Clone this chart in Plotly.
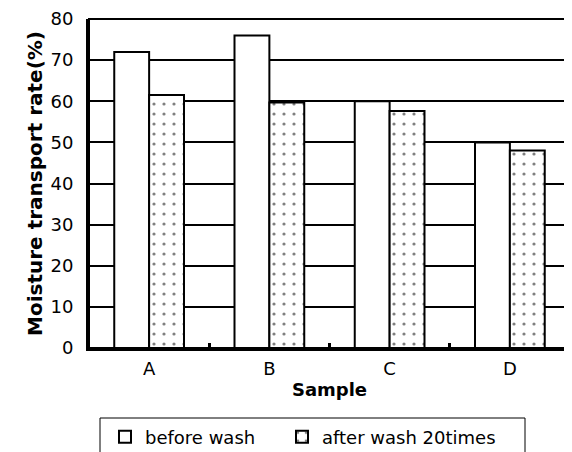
import plotly.graph_objects as go

categories = ["A", "B", "C", "D"]
before_wash = [72, 76, 60, 50]
after_wash = [61.5, 59.7, 57.6, 48]
series_names = ["before wash", "after wash 20times"]
y_ticks = [0, 10, 20, 30, 40, 50, 60, 70, 80]

FONT = "DejaVu Sans, Arial, sans-serif"
W, H = 572, 452
OFF = 8  # page body margin offsets the figure in the screenshot

fig = go.Figure()
fig.add_trace(go.Bar(
    x=categories, y=before_wash, name=series_names[0], legend="legend",
    marker=dict(color="white", line=dict(color="black", width=2)),
))
fig.add_trace(go.Bar(
    x=categories, y=after_wash, name=series_names[1], legend="legend2",
    marker=dict(color="white", line=dict(color="black", width=2),
                pattern=dict(shape=".", size=10, solidity=0.08,
                             fgcolor="black", bgcolor="white")),
))

# plot area in figure coordinates
PL, PR, PT, PB = 89 - OFF, 570 - OFF, 19 - OFF, 348 - OFF
pw, ph = PR - PL, PB - PT

leg_common = dict(
    orientation="h", xref="container", yref="container",
    xanchor="left", yanchor="middle", y=1 - (437 - OFF) / H,
    borderwidth=0, bgcolor="rgba(0,0,0,0)",
    font=dict(family=FONT, size=18, color="black"), itemwidth=30,
)

fig.update_layout(
    width=W, height=H, autosize=False,
    margin=dict(l=PL, r=W - PR, t=PT, b=H - PB, pad=0),
    paper_bgcolor="white", plot_bgcolor="white",
    barmode="group", bargap=0.42, bargroupgap=0,
    font=dict(family=FONT, size=18, color="black"),
    showlegend=True,
    legend=dict(leg_common, x=(105 - OFF) / W),
    legend2=dict(leg_common, x=(282 - OFF) / W),
    xaxis=dict(
        range=[-0.5, 3.5], showline=True, linecolor="black", linewidth=3,
        ticks="inside", tickson="boundaries", ticklen=5, tickwidth=3,
        tickcolor="black", showgrid=False, automargin=False,
        ticklabelstandoff=2, ticklabeloverflow="allow",
        title=dict(text="<b>Sample</b>", standoff=6,
                   font=dict(family=FONT, size=18)),
    ),
    yaxis=dict(
        range=[0, 80], tickvals=y_ticks, showline=True, linecolor="black",
        linewidth=3, ticks="", showgrid=True, gridcolor="black", gridwidth=1.5,
        ticklabelstandoff=9, ticklabeloverflow="allow",
        zeroline=False, automargin=False,
        title=dict(text="<b>Moisture transport rate(%)</b>", standoff=3,
                   font=dict(family=FONT, size=20)),
    ),
    shapes=[
        dict(type="rect", xref="paper", yref="paper", x0=0, x1=1, y0=0, y1=1,
             line=dict(color="black", width=2), layer="above"),
        dict(type="rect", xref="paper", yref="paper",
             x0=(100 - OFF - PL) / pw, x1=(525 - OFF - PL) / pw,
             y0=(PB - (418 - OFF)) / ph, y1=(PB - (470 - OFF)) / ph,
             line=dict(color="black", width=1), layer="above"),
    ],
)

fig.write_html("out.html", config={"responsive": False})
